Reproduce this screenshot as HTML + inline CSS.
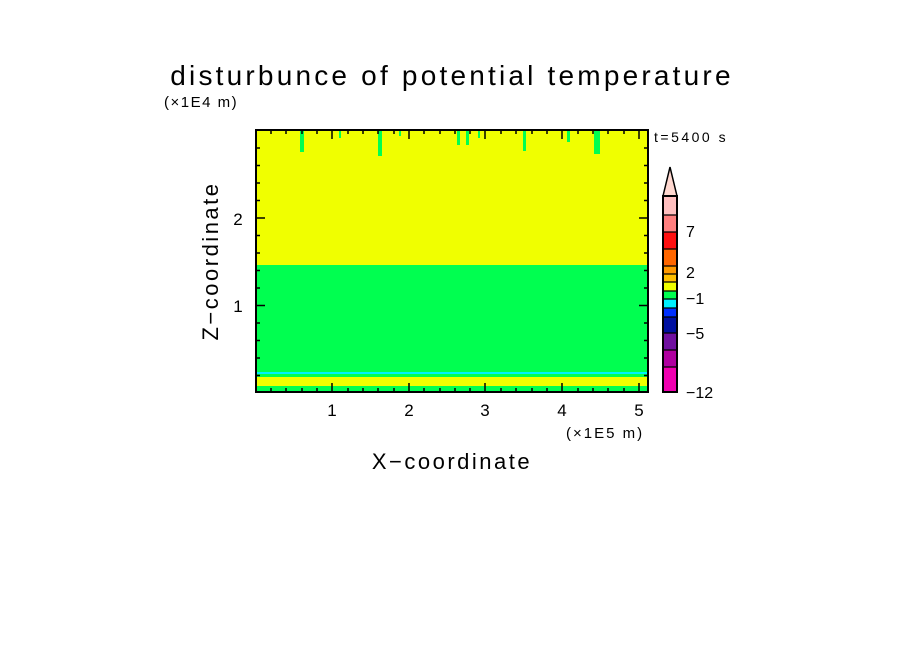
<!DOCTYPE html>
<html><head><meta charset="utf-8"><style>
html,body{margin:0;padding:0;background:#fff;}
svg{display:block;font-family:"Liberation Sans",sans-serif;}
</style></head><body>
<svg width="904" height="654" viewBox="0 0 904 654" xmlns="http://www.w3.org/2000/svg">
<rect width="904" height="654" fill="#fff"/>
<text x="452" y="85" font-size="28" text-anchor="middle" letter-spacing="3.2">disturbunce of potential temperature</text>
<text x="164" y="107" font-size="15" letter-spacing="1.5">(×1E4 m)</text>
<rect x="256" y="130" width="392" height="262" fill="#f0ff00"/>
<rect x="256" y="265" width="392" height="108" fill="#00ff50"/>
<rect x="256" y="372" width="392" height="2" fill="#00f0ff"/>
<rect x="256" y="374" width="392" height="3" fill="#00ff50"/>
<rect x="256" y="377" width="392" height="9" fill="#f0ff00"/>
<rect x="256" y="386" width="392" height="6" fill="#00ff50"/>
<g fill="#00ff50">
<rect x="300" y="130" width="4" height="22"/>
<rect x="339" y="130" width="2" height="8"/>
<rect x="378" y="130" width="4" height="26"/>
<rect x="399" y="130" width="2" height="6"/>
<rect x="457" y="130" width="3" height="15"/>
<rect x="466" y="130" width="3" height="15"/>
<rect x="478" y="130" width="2" height="8"/>
<rect x="523" y="130" width="3" height="21"/>
<rect x="567" y="130" width="3" height="12"/>
<rect x="594" y="130" width="6" height="24"/>
</g>
<rect x="256" y="130" width="392" height="262" fill="none" stroke="#000" stroke-width="2"/>
<g stroke="#000" stroke-width="1.5">
<path d="M332,392v-9M409,392v-9M485,392v-9M562,392v-9M639,392v-9M332,130v9M409,130v9M485,130v9M562,130v9M639,130v9"/>
<path d="M256,305.5h9M256,218h9M648,305.5h-9M648,218h-9"/>
<path d="M271,392v-4M286,392v-4M302,392v-4M317,392v-4M348,392v-4M363,392v-4M378,392v-4M394,392v-4M424,392v-4M440,392v-4M455,392v-4M470,392v-4M501,392v-4M516,392v-4M532,392v-4M547,392v-4M578,392v-4M593,392v-4M608,392v-4M624,392v-4
M271,130v4M286,130v4M302,130v4M317,130v4M348,130v4M363,130v4M378,130v4M394,130v4M424,130v4M440,130v4M455,130v4M470,130v4M501,130v4M516,130v4M532,130v4M547,130v4M578,130v4M593,130v4M608,130v4M624,130v4"/>
<path d="M256,375.5h4M256,358h4M256,340.5h4M256,323h4M256,288h4M256,270.5h4M256,253h4M256,235.5h4M256,200.5h4M256,183h4M256,165.5h4M256,148h4
M648,375.5h-4M648,358h-4M648,340.5h-4M648,323h-4M648,288h-4M648,270.5h-4M648,253h-4M648,235.5h-4M648,200.5h-4M648,183h-4M648,165.5h-4M648,148h-4"/>
</g>
<g font-size="17" text-anchor="middle">
<text x="332" y="416">1</text><text x="409" y="416">2</text><text x="485" y="416">3</text><text x="562" y="416">4</text><text x="639" y="416">5</text>
<text x="238" y="312">1</text><text x="238" y="225">2</text>
</g>
<text x="566" y="438" font-size="15" letter-spacing="2">(×1E5 m)</text>
<text x="452" y="469" font-size="22" text-anchor="middle" letter-spacing="2.5">X−coordinate</text>
<text transform="translate(218,261) rotate(-90)" font-size="22" text-anchor="middle" letter-spacing="2.5">Z−coordinate</text>
<text x="654" y="142" font-size="14" letter-spacing="2.5">t=5400 s</text>
<polygon points="663,196 670,167 677,196" fill="#ffd8d0" stroke="#000" stroke-width="1.5"/>
<rect x="663" y="196" width="14" height="19" fill="#ffbfbf"/>
<rect x="663" y="215" width="14" height="17" fill="#ff7f7f"/>
<rect x="663" y="232" width="14" height="17" fill="#ff1010"/>
<rect x="663" y="249" width="14" height="17" fill="#ff6600"/>
<rect x="663" y="266" width="14" height="8" fill="#ff9900"/>
<rect x="663" y="274" width="14" height="8" fill="#ffbf00"/>
<rect x="663" y="282" width="14" height="9" fill="#f0ff00"/>
<rect x="663" y="291" width="14" height="8" fill="#00ff50"/>
<rect x="663" y="299" width="14" height="9" fill="#00f0ff"/>
<rect x="663" y="308" width="14" height="9" fill="#0030ff"/>
<rect x="663" y="317" width="14" height="16" fill="#0010a0"/>
<rect x="663" y="333" width="14" height="17" fill="#7010a0"/>
<rect x="663" y="350" width="14" height="17" fill="#b000a0"/>
<rect x="663" y="367" width="14" height="25" fill="#f000b0"/>
<g stroke="#000" stroke-width="1.2"><path d="M663,215h14M663,232h14M663,249h14M663,266h14M663,274h14M663,282h14M663,291h14M663,299h14M663,308h14M663,317h14M663,333h14M663,350h14M663,367h14"/></g>
<rect x="663" y="196" width="14" height="196" fill="none" stroke="#000" stroke-width="2"/>
<g font-size="16">
<text x="686" y="237">7</text><text x="686" y="278">2</text><text x="686" y="304">−1</text><text x="686" y="339">−5</text><text x="686" y="398">−12</text>
</g>
</svg>
</body></html>
